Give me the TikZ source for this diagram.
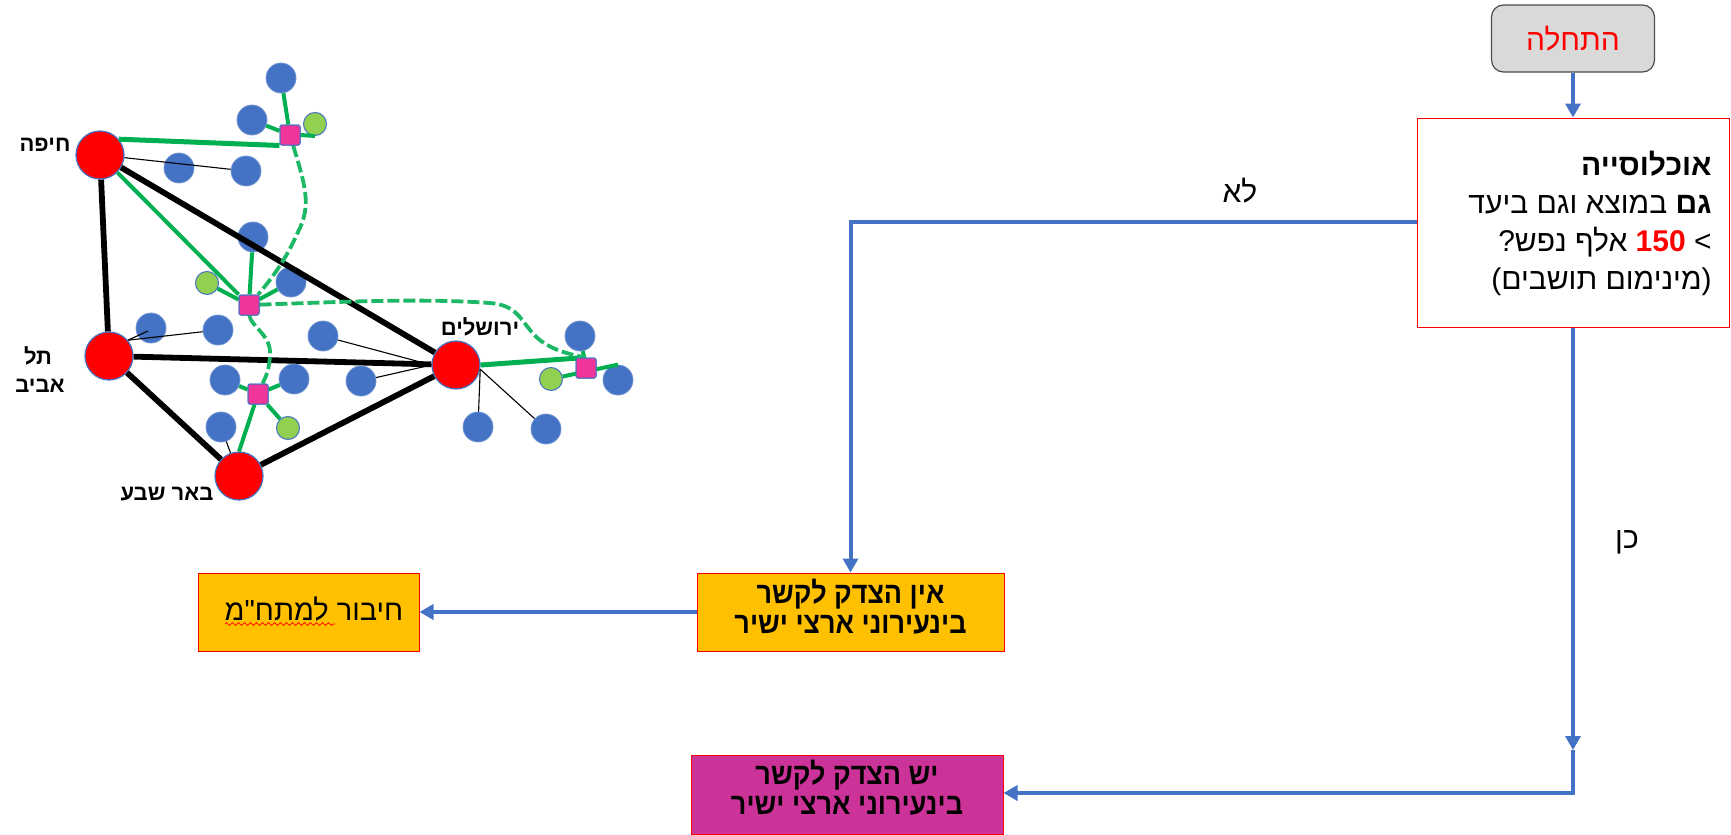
\documentclass[tikz,border=0pt]{standalone}
\usepackage{fontspec}
\usetikzlibrary{arrows.meta,decorations.pathmorphing}
\TeXXeTstate=1
\newfontfamily\hebfont[Script=Hebrew]{Liberation Sans}
\newfontfamily\hebcond[Script=Hebrew,FakeStretch=0.9]{Liberation Sans}
\newcommand{\rl}[1]{\beginR #1\endR}
\definecolor{bluefill}{HTML}{4472C4}
\definecolor{bgreen}{HTML}{00B050}
\definecolor{dgreen}{HTML}{1DB866}
\definecolor{lgreen}{HTML}{92D050}
\definecolor{pinkfill}{HTML}{F0359A}
\definecolor{orangefill}{HTML}{FFC000}
\definecolor{magentafill}{HTML}{CC3399}
\tikzset{
  font=\hebfont,
  city/.style={circle,draw=bluefill,line width=0.6pt,fill=red,minimum size=24pt,inner sep=0pt},
  leaf/.style={circle,draw=bluefill!75!white,line width=0.4pt,fill=bluefill,minimum size=15pt,inner sep=0pt},
  gleaf/.style={circle,draw=bluefill,line width=0.5pt,fill=lgreen,minimum size=11.5pt,inner sep=0pt},
  hub/.style={rectangle,rounded corners=1pt,draw=bluefill,line width=0.5pt,fill=pinkfill,minimum size=10pt,inner sep=0pt},
  road/.style={line width=2.9pt,black},
  thinl/.style={line width=0.55pt,black},
  gr/.style={line width=2pt,bgreen},
  grw/.style={line width=2.5pt,bgreen},
  dsh/.style={line width=1.9pt,dgreen,dash pattern=on 6pt off 2pt},
  citylab/.style={font=\hebfont\bfseries\fontsize{11pt}{13pt}\selectfont,inner sep=0pt},
  boxtxt/.style={align=center,inner sep=0pt,font=\hebcond\bfseries\fontsize{15pt}{15pt}\selectfont},
  conn/.style={line width=2pt,bluefill},
  arr/.style={conn,-{Triangle[length=7pt,width=7.5pt]}},
  flowlab/.style={font=\hebfont\fontsize{15pt}{18pt}\selectfont,inner sep=0pt},
  redbox/.style={rectangle,draw=red,line width=0.5pt,inner sep=0pt}
}
\begin{document}
\begin{tikzpicture}[x=0.5pt,y=-0.5pt]
\useasboundingbox (0,0) rectangle (1731,835);
% leaves
\node[leaf] (b1) at (281,78) {};
\node[leaf] (b2) at (252,120) {};
\node[leaf] (b3) at (179,168) {};
\node[leaf] (b4) at (246,171) {};
\node[leaf] (b5) at (253,237) {};
\node[leaf] (b6) at (291,282) {};
\node[leaf] (b7) at (151,328) {};
\node[leaf] (b8) at (218,330) {};
\node[leaf] (b9) at (323,336) {};
\node[leaf] (b10) at (225,380) {};
\node[leaf] (b11) at (294,379) {};
\node[leaf] (b12) at (221,427) {};
\node[leaf] (b13) at (580,336) {};
\node[leaf] (b14) at (618,380) {};
\node[leaf] (b15) at (361,381) {};
\node[leaf] (b16) at (478,427) {};
\node[leaf] (b17) at (546,429) {};
\node[gleaf] (g1) at (315,124) {};
\node[gleaf] (g2) at (207,283) {};
\node[gleaf] (g3) at (288,428) {};
\node[gleaf] (g4) at (551,379) {};
% cities and hubs
\node[city] (hf) at (100,155) {};
\node[city] (ta) at (109,356) {};
\node[city] (bs) at (239,476) {};
\node[city] (jr) at (456,365) {};
\node[hub] (p1) at (290,135) {};
\node[hub] (p2) at (249,305) {};
\node[hub] (p3) at (258,394) {};
\node[hub] (p4) at (586,368) {};
% thin
\draw[thinl] (hf) -- (b4);
\draw[thinl] (ta.40) -- (b8);
\draw[thinl] (ta.40) -- ([shift={(-3,3)}]b7.center);
\draw[thinl] (jr.west) -- (b9);
\draw[thinl] (jr.west) -- (b15);
\draw[thinl] (jr.-10) -- (b16);
\draw[thinl] (jr.-10) -- (b17);
\draw[thinl] (bs) -- (b12);
% roads
\draw[road] (hf) -- (ta);
\draw[road] (hf) -- (jr);
\draw[road] (ta) -- (jr);
\draw[road] (ta) -- (bs);
\draw[road] (bs) -- (jr);
% green
\draw[grw] (hf.40) -- (p1.south west);
\draw[gr] (hf) -- (p2);
\draw[gr] (p1) -- (b1);
\draw[gr] (p1) -- (b2);
\draw[gr] (p1.east) -- (g1.south);
\draw[gr] (p2) -- (b5);
\draw[gr] (p2) -- (b6);
\draw[gr] (p2) -- (g2);
\draw[gr] (p3) -- (b10);
\draw[gr] (p3) -- (b11);
\draw[gr] (p3) -- (g3);
\draw[gr] (p3) -- (bs.north);
\draw[grw] (jr.east) -- (p4.north);
\draw[gr] (p4) -- (b13);
\draw[gr] (g4) -- (b14.north);
% dashed
\draw[dsh] (p1) .. controls (305,185) and (312,205) .. (298,232) .. controls (288,255) and (275,275) .. (p2);
\draw[dsh] (p2) .. controls (250,325) and (270,335) .. (270,352) .. controls (270,370) and (265,378) .. (p3);
\draw[dsh] (p2) .. controls (340,302) and (420,298) .. (490,303) .. controls (515,305) and (520,318) .. (530,330) .. controls (540,343) and (555,352) .. (p4.north);
% re-stamp hubs above lines
\node[hub] (p1t) at (p1) {};
\node[hub] (p2t) at (p2) {};
\node[hub] (p3t) at (p3) {};
\node[hub] (p4t) at (p4) {};
% city labels
\node[citylab] (l1) at (45,145) {\rl{חיפה}};
\node[citylab] (l2) at (38,356) {\rl{תל}};
\node[citylab] (l3) at (40,386) {\rl{אביב}};
\node[citylab] (l4) at (167,494) {\rl{באר שבע}};
\node[citylab] (l5) at (480,327) {\rl{ירושלים}};
% flow
\node[rectangle,rounded corners=6pt,draw=black!70,line width=0.6pt,fill=black!15,minimum width=81.5pt,minimum height=33.5pt,inner sep=0pt,text=red,font=\hebfont\fontsize{15pt}{18pt}\selectfont] (st) at (1573,38.5) {\rl{התחלה}};
\node[redbox,fill=white,minimum width=156pt,minimum height=104.5pt] (q) at (1573,222.5) {};
\node[anchor=east,align=right,inner sep=0pt,font=\hebfont\fontsize{15pt}{19pt}\selectfont] (qt) at (1712,223) {\rl{\textbf{אוכלוסייה}}\\\rl{\textbf{גם} במוצא וגם ביעד}\\\rl{> \beginL\textcolor{red}{\textbf{150}}\endL{} אלף נפש?}\\\rl{(מינימום תושבים)}};
\node[redbox,fill=orangefill,minimum width=153.5pt,minimum height=39pt] (o1) at (850.5,612) {};
\node[boxtxt] (o1t) at (850.5,607) {\rl{אין הצדק לקשר}\\\rl{בינעירוני ארצי ישיר}};
\node[redbox,fill=orangefill,minimum width=110.5pt,minimum height=39pt] (o2) at (308.5,612) {};
\node[inner sep=0pt,font=\hebfont\fontsize{14.5pt}{18pt}\selectfont] (o2t) at (314,609) {\rl{חיבור למתח"מ}};
\node[redbox,fill=magentafill,minimum width=156pt,minimum height=39.5pt] (m) at (847,794.5) {};
\node[boxtxt] (mt) at (847,788) {\rl{יש הצדק לקשר}\\\rl{בינעירוני ארצי ישיר}};
\coordinate (wa) at (225,624);
\coordinate (wb) at (335,624);
\draw[red,line width=0.35pt,decorate,decoration={zigzag,segment length=3pt,amplitude=0.7pt}] (wa) -- (wb);
\coordinate (c1) at (850.5,222);
\coordinate (c2) at (1573,750);
\coordinate (c3) at (1573,793);
\draw[arr] (st) -- (q);
\draw[arr] (q.west |- c1) -- (c1) -- (o1);
\draw[arr] (o1) -- (o2);
\draw[arr] (q) -- (c2);
\draw[arr] (c2) -- (c3) -- (m.east |- c3);
\node[flowlab] (no) at (1240,191) {\rl{לא}};
\node[flowlab] (yes) at (1627,542) {\rl{כן}};
\end{tikzpicture}
\end{document}
